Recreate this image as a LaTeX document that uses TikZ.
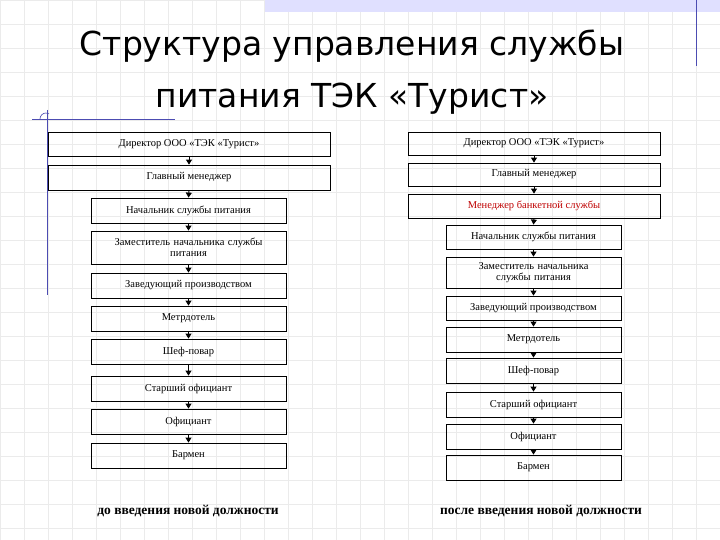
\documentclass[tikz,border=0pt]{standalone}
\usepackage{fontspec}
\setmainfont{Liberation Serif}
\newfontfamily\titlefont{DejaVu Sans}
\usetikzlibrary{arrows.meta}
\begin{document}
\begin{tikzpicture}[x=1pt,y=-1pt,
  bx/.style={draw,line width=0.8pt,minimum height=#1,inner sep=1pt,align=center,font=\fontsize{10.5}{11}\selectfont},
  bx/.default=25pt,
  ar/.style={-{Triangle[length=5pt,width=6pt]},line width=0.9pt},
  gl/.style={black!8,line width=0.6pt},
  lab/.style={font=\fontsize{13.5}{15}\selectfont\bfseries}]
\useasboundingbox (0,0) rectangle (720,540);
\fill[white] (0,0) rectangle (720,540);
\foreach \i in {0,...,30} \draw[gl] (\i*24,0) -- (\i*24,540);
\foreach \i in {0,...,23} \draw[gl] (0,\i*24) -- (720,\i*24);
\fill[blue!12] (265,0) rectangle (720,12);
\draw[blue!40!gray,line width=0.6pt] (696,0) -- (696,66);
\draw[blue!40!gray,line width=0.6pt] (32,119) -- (175,119);
\draw[blue!40!gray,line width=0.6pt] (47,110) -- (47,295);
\draw[blue!40!gray,line width=0.6pt] (40,119) arc (180:300:6);
\node[font=\titlefont\fontsize{33}{52}\selectfont,align=center] (title) at (352,72) {Структура управления службы\\питания ТЭК «Турист»};
% left
\node[bx,minimum width=282pt,minimum height=24pt] (l1) at (189,144) {Директор ООО «ТЭК «Турист»};
\node[bx,minimum width=282pt] (l2) at (189,177.5) {Главный менеджер};
\node[bx,minimum width=195pt] (l3) at (188.5,210.5) {Начальник службы питания};
\node[bx,minimum width=195pt,minimum height=33pt,text width=185pt] (l4) at (188.5,247.5) {Заместитель начальника службы\\питания};
\node[bx,minimum width=195pt] (l5) at (188.5,285.5) {Заведующий производством};
\node[bx,minimum width=195pt] (l6) at (188.5,318.5) {Метрдотель};
\node[bx,minimum width=195pt] (l7) at (188.5,351.5) {Шеф-повар};
\node[bx,minimum width=195pt] (l8) at (188.5,388.5) {Старший официант};
\node[bx,minimum width=195pt] (l9) at (188.5,421.5) {Официант};
\node[bx,minimum width=195pt] (l10) at (188.5,455.5) {Бармен};
\foreach \a/\b in {l1/l2,l2/l3,l3/l4,l4/l5,l5/l6,l6/l7,l7/l8,l8/l9,l9/l10}
  \draw[ar] (\a.south) -- (\b.north);
\node[lab] (ll) at (188,511) {до введения новой должности};
% right
\node[bx,minimum width=252pt,minimum height=23pt] (r1) at (534,143.5) {Директор ООО «ТЭК «Турист»};
\node[bx,minimum width=252pt,minimum height=23pt] (r2) at (534,174.5) {Главный менеджер};
\node[bx,minimum width=252pt,minimum height=24pt,text=red!75!black] (r3) at (534,206) {Менеджер банкетной службы};
\node[bx,minimum width=175pt,minimum height=24pt] (r4) at (533.5,237) {Начальник службы питания};
\node[bx,minimum width=175pt,minimum height=31pt,text width=170pt] (r5) at (533.5,272.5) {Заместитель начальника\\службы питания};
\node[bx,minimum width=175pt,minimum height=24pt] (r6) at (533.5,308) {Заведующий производством};
\node[bx,minimum width=175pt] (r7) at (533.5,339.5) {Метрдотель};
\node[bx,minimum width=175pt] (r8) at (533.5,370.5) {Шеф-повар};
\node[bx,minimum width=175pt] (r9) at (533.5,404.5) {Старший официант};
\node[bx,minimum width=175pt] (r10) at (533.5,436.5) {Официант};
\node[bx,minimum width=175pt] (r11) at (533.5,467.5) {Бармен};
\foreach \a/\b in {r1/r2,r2/r3,r3/r4,r4/r5,r5/r6,r6/r7,r7/r8,r8/r9,r9/r10,r10/r11}
  \draw[ar] (\a.south) -- (\b.north);
\node[lab] (rl) at (541,511) {после введения новой должности};
\end{tikzpicture}
\end{document}
